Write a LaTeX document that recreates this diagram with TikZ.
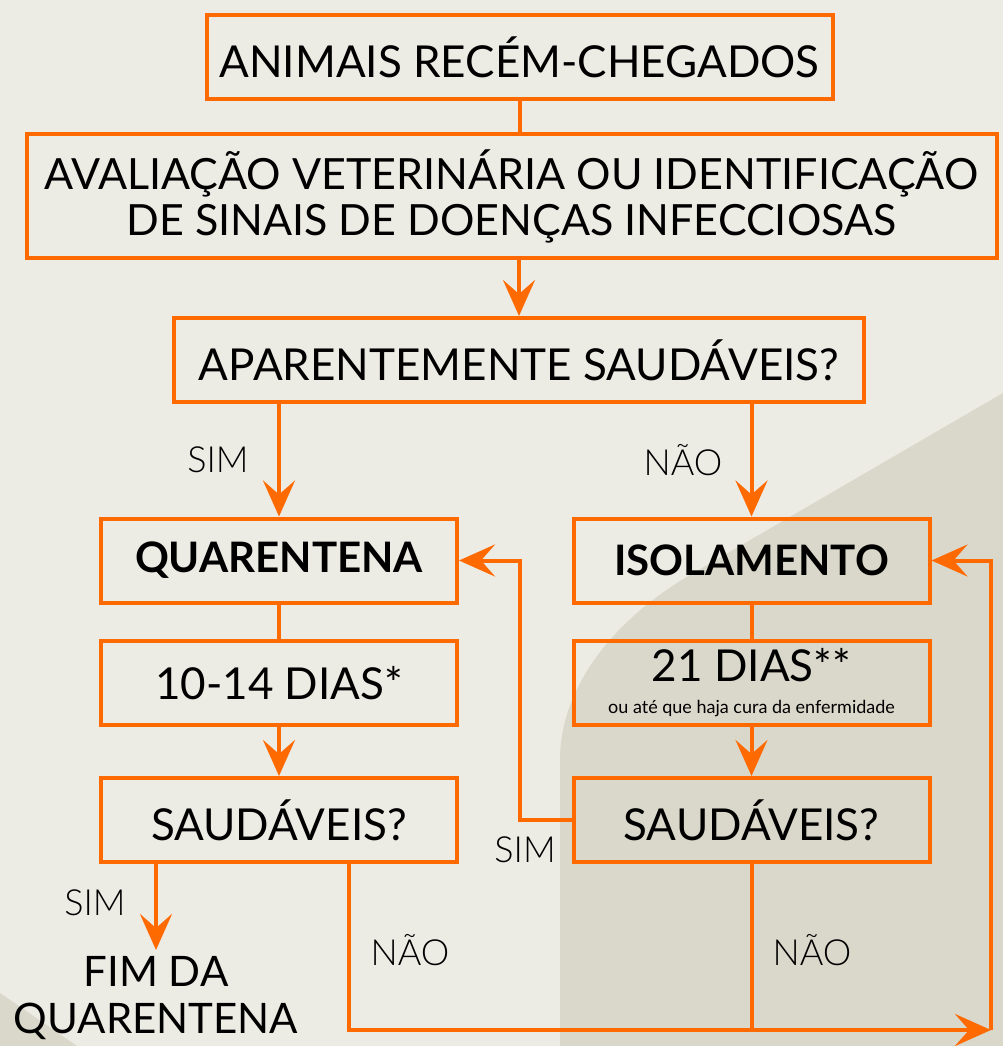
\documentclass[tikz,border=0pt]{standalone}
\usepackage{fontspec}
\setmainfont{Lato}
\newfontfamily\lightfont{Lato Light}
\usetikzlibrary{positioning,arrows.meta}
\definecolor{paper}{HTML}{ECEBE4}
\definecolor{duskbeige}{HTML}{DAD8CB}
\definecolor{flame}{HTML}{FF6A00}

\begin{document}
\begin{tikzpicture}[
    x=1pt, y=-1pt,
    box/.style={rectangle, draw=flame, line width=4pt, inner sep=0pt, align=center,
        minimum height=84pt, font=\fontsize{44}{48}\selectfont},
    halfbox/.style={box, minimum width=356pt},
    choice/.style={font=\lightfont\fontsize{36}{40}\selectfont},
    link/.style={draw=flame, line width=4pt},
    arr/.style={link, -{Stealth[length=36pt, width=32pt, inset=14pt]}}
]
    % Background and shaded corner
    \fill[paper] (0,0) rectangle (1003,1046);
    \fill[duskbeige] (1003,393) -- (690,575) .. controls (610,622) and (560,690) .. (560,760)
        -- (560,1046) -- (1003,1046) -- cycle;
    \fill[duskbeige] (0,993) -- (77,1046) -- (0,1046) -- cycle;
    \useasboundingbox (0,0) rectangle (1003,1046);

    % Upper chain
    \node[box, minimum width=626pt] (arrival) at (519.5,57.5) {ANIMAIS RECÉM-CHEGADOS};
    \node[box, minimum width=970pt, minimum height=124pt, font=\fontsize{43}{46}\selectfont] (exam) at (511.5,196)
        {AVALIAÇÃO VETERINÁRIA OU IDENTIFICAÇÃO\\DE SINAIS DE DOENÇAS INFECCIOSAS};
    \node[box, minimum width=690pt] (healthy) at (519,360) {APARENTEMENTE SAUDÁVEIS?};

    \draw[link] (arrival.south) -- (arrival.south |- exam.north);
    \draw[arr] (exam.south -| healthy.north) -- (healthy.north);

    % Two branches
    \node[halfbox, font=\bfseries\fontsize{42}{46}\selectfont] (quarantine) at (279,560.5) {QUARENTENA};
    \node[halfbox, font=\bfseries\fontsize{42}{46}\selectfont] (isolation) at (751.5,560.5) {ISOLAMENTO};
    \node[halfbox, font=\fontsize{44}{48}\selectfont] (shortstay) at (279,683) {10-14 DIAS*};
    \node[halfbox] (longstay) at (751.5,683)
        {{\fontsize{44}{44}\selectfont 21 DIAS**}\\[-16pt]{\fontsize{18}{20}\selectfont ou até que haja cura da enfermidade}};
    \node[halfbox] (checkleft) at (279,820) {SAUDÁVEIS?};
    \node[halfbox] (checkright) at (751.5,820) {SAUDÁVEIS?};
    \node[font=\fontsize{42}{47}\selectfont, align=center, anchor=north, inner sep=0pt] (finish) at (156,956)
        {FIM DA\\QUARENTENA};

    \draw[arr] (healthy.south -| quarantine.north) -- (quarantine.north);
    \draw[arr] (healthy.south -| isolation.north) -- (isolation.north);
    \draw[link] (quarantine) -- (shortstay);
    \draw[link] (isolation) -- (longstay);
    \draw[arr] (shortstay) -- (checkleft);
    \draw[arr] (longstay) -- (checkright);

    % Outcomes
    \draw[arr] (checkright.west) -- ++(-52,0) |- (quarantine.east);
    \draw[arr] (checkleft.south -| finish.north) -- ([yshift=6pt]finish.north);
    \coordinate (loop) at (991,1030);
    \draw[arr] ([xshift=70pt]checkleft.south) |- (loop);
    \draw[link] (checkright.south) -- (checkright.south |- loop);
    \draw[arr] (loop) |- (isolation.east);

    % Answer labels
    \node[choice] (yesA) at (218,460) {SIM};
    \node[choice] (noA) at (683,460) {NÃO};
    \node[choice] (yesB) at (525,850) {SIM};
    \node[choice] (yesC) at (95,903) {SIM};
    \node[choice] (noB) at (410,950) {NÃO};
    \node[choice] (noC) at (812,950) {NÃO};
\end{tikzpicture}
\end{document}
